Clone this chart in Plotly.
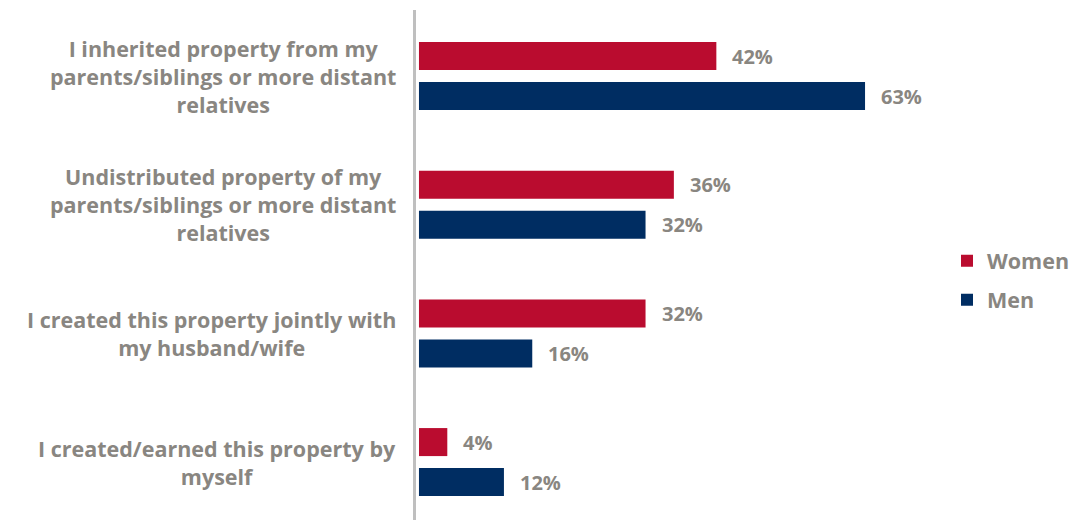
import plotly.graph_objects as go

# Source of property ownership, by gender (% of respondents)
categories = [
    "I inherited property from my<br>parents/siblings or more distant<br>relatives",
    "Undistributed property of my<br>parents/siblings or more distant<br>relatives",
    "I created this property jointly with<br>my husband/wife",
    "I created/earned this property by<br>myself",
]
women = [42, 36, 32, 4]
men = [63, 32, 16, 12]
series_names = ["Women", "Men"]

RED = "#BA0C2F"
NAVY = "#002D62"
GREY = "#898681"
FONT = "Open Sans"

BARGAP = 0.378
BARGROUPGAP = 0.3

fig = go.Figure()
idx = list(range(len(categories)))
for name, vals, color in [(series_names[0], women, RED), (series_names[1], men, NAVY)]:
    fig.add_trace(go.Bar(
        name=name, x=vals, y=idx, orientation="h",
        marker=dict(color=color, line=dict(width=0)),
        legendgroup=name,
    ))

# value labels just past the end of each bar
slot = (1 - BARGAP) / 2
for i in idx:
    for vals, off in [(women, -slot / 2), (men, slot / 2)]:
        fig.add_annotation(
            x=vals[i], y=i + off, xref="x", yref="y",
            text=f"{vals[i]}%", showarrow=False,
            xanchor="left", yanchor="middle", xshift=14,
            font=dict(family=FONT, size=20, color=GREY, weight="bold"),
        )

# category labels, centred multi-line blocks right-aligned to the axis
for i, cat in enumerate(categories):
    fig.add_annotation(
        x=0, y=i, xref="paper", yref="y",
        text=cat, showarrow=False, align="center",
        xanchor="right", yanchor="middle", xshift=-18,
        font=dict(family=FONT, size=21.5, color=GREY, weight="bold"),
    )

fig.update_layout(
    width=1075, height=520,
    margin=dict(l=416, r=124, t=10, b=0),
    paper_bgcolor="white", plot_bgcolor="white",
    barmode="group", bargap=BARGAP, bargroupgap=BARGROUPGAP,
    showlegend=True,
    legend=dict(
        x=0.995, y=0.47, xanchor="left", yanchor="middle",
        traceorder="grouped", tracegroupgap=8,
        font=dict(family=FONT, size=21.5, color=GREY, weight="bold"),
        itemwidth=30,
    ),
    xaxis=dict(range=[-0.42, 75], visible=False, fixedrange=True),
    yaxis=dict(
        range=[3.45, -0.513], showticklabels=False, showgrid=False,
        zeroline=False, showline=True, linecolor="#BFBFBF", linewidth=3,
        ticks="",
    ),
)

fig.write_html("out.html")
